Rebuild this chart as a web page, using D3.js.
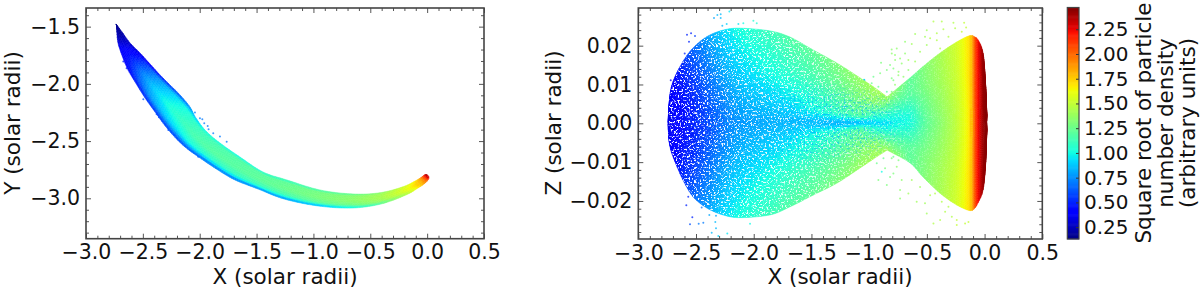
<!DOCTYPE html>
<html>
<head>
<meta charset="utf-8">
<style>
  body { margin: 0; background: #fff; }
  svg { display: block; }
  text { font-family: "DejaVu Sans", sans-serif; fill: #111; }
</style>
<script src="https://d3js.org/d3.v7.min.js"></script>
</head>
<body>
<div id="chart"></div>
<script>
// cross sections of the X-Y swath, from tip to tail
const swathUpperX = [-2.736,-2.683,-2.613,-2.525,-2.437,-2.349,-2.261,-2.173,-2.085,-2.033,-1.945,-1.821,-1.646,-1.443,-1.232,-0.942,-0.652,-0.414,-0.212,-0.106,-0.054,-0.018,-0.001];
const swathUpperY = [-1.476,-1.546,-1.642,-1.730,-1.826,-1.922,-2.010,-2.097,-2.202,-2.298,-2.412,-2.517,-2.639,-2.770,-2.840,-2.927,-2.962,-2.951,-2.899,-2.849,-2.818,-2.792,-2.792];
const swathLowerX = [-2.732,-2.723,-2.701,-2.639,-2.569,-2.481,-2.393,-2.296,-2.191,-2.103,-1.997,-1.874,-1.698,-1.487,-1.259,-0.960,-0.660,-0.405,-0.186,-0.080,-0.027,0.008,0.017];
const swathLowerY = [-1.485,-1.616,-1.704,-1.861,-1.983,-2.123,-2.246,-2.377,-2.495,-2.573,-2.648,-2.731,-2.836,-2.919,-3.006,-3.067,-3.085,-3.050,-2.971,-2.910,-2.875,-2.840,-2.814];
const swathFractions = [0, 0.12, 0.5, 0.82, 1];
const swathValues = [
  [.15,.15,.15,.15,.15],[.2,.2,.2,.25,.3],[.25,.3,.35,.38,.4],[.3,.42,.52,.48,.42],
  [.35,.58,.72,.62,.45],[.42,.74,.88,.75,.5],[.5,.85,.98,.84,.52],[.58,.94,1.06,.9,.55],
  [.7,1.02,1.12,.95,.55],[.85,1.08,1.15,1.0,.6],[1.0,1.12,1.18,1.02,.62],[1.0,1.15,1.2,1.05,.65],
  [.98,1.18,1.2,1.08,.65],[1.02,1.2,1.22,1.1,.7],[1.05,1.22,1.25,1.12,.72],[1.1,1.28,1.3,1.2,.8],
  [1.18,1.33,1.35,1.25,.95],[1.3,1.4,1.42,1.35,1.15],[1.5,1.55,1.58,1.5,1.4],[1.65,1.7,1.75,1.7,1.65],
  [1.95,1.9,1.85,1.85,1.85],[2.35,2.3,2.2,2.1,2.0],[2.45,2.45,2.4,2.4,2.4]
];
// stray particles outside the X-Y swath: x, y, value
const swathStrays = [
  [-2.672,-1.805,.5],[-2.643,-1.864,.5],[-2.496,-2.135,.6],[-2.379,-2.266,.6],[-2.358,-2.292,.6],[-2.276,-2.403,.6],
  [-2.218,-2.446,.6],[-2.042,-2.251,.7],[-1.998,-2.301,.7],[-1.977,-2.309,.7],[-1.960,-2.344,.7],[-1.930,-2.368,.7],
  [-1.922,-2.397,.7],[-1.881,-2.432,.7],[-1.822,-2.461,.7],[-1.763,-2.505,.7],[-2.057,-2.592,.6],[-2.013,-2.636,.6]
];

// X-Z body: stations along x
const bodyX = [-2.740,-2.736,-2.719,-2.682,-2.613,-2.526,-2.407,-2.266,-2.119,-1.859,-1.685,-1.486,-1.279,-1.079,-0.949,-0.845,-0.646,-0.534,-0.386,-0.238,-0.126,-0.083,-0.057,-0.013,0.010,0.019];
const bodyTop = [.0003,.0039,.0086,.0120,.0159,.0194,.0223,.0240,.0245,.0238,.0222,.0189,.0155,.0117,.0091,.0068,.0117,.0146,.0181,.0210,.0226,.0222,.0215,.0181,.0094,.0021];
const bodyBottom = [-.0002,-.0038,-.0069,-.0099,-.0146,-.0189,-.0218,-.0236,-.0243,-.0236,-.0215,-.0185,-.0154,-.0115,-.0089,-.0069,-.0102,-.0138,-.0180,-.0211,-.0225,-.0218,-.0205,-.0172,-.0100,-.0017];
const bodyWaist = 15; // index of the neck in bodyX
const bodyFractions = [0, 0.2, 0.42, 0.5, 0.58, 0.8, 1];
const bodyValues = [
  [.35,.35,.35,.35,.35,.35,.35],[.36,.36,.34,.34,.34,.36,.36],[.38,.38,.36,.36,.36,.38,.38],[.42,.42,.4,.38,.4,.42,.42],
  [.52,.47,.44,.44,.44,.47,.52],[.65,.55,.48,.48,.48,.55,.65],[.78,.68,.58,.56,.58,.68,.78],[.92,.82,.7,.68,.7,.82,.92],
  [1.02,.92,.8,.76,.8,.92,1.02],[1.12,1.02,.88,.82,.88,1.02,1.12],[1.18,1.08,.92,.84,.92,1.08,1.18],[1.22,1.14,1.0,.85,1.0,1.14,1.22],
  [1.3,1.22,1.1,.82,1.1,1.22,1.3],[1.38,1.32,1.2,.85,1.2,1.32,1.38],[1.42,1.36,1.05,.92,1.05,1.36,1.42],[1.42,1.2,1.0,.95,1.0,1.2,1.42],
  [1.22,1.2,1.05,1.02,1.05,1.2,1.22],[1.3,1.28,1.2,1.18,1.2,1.28,1.3],[1.42,1.4,1.35,1.33,1.35,1.4,1.42],[1.55,1.53,1.5,1.5,1.5,1.53,1.55],
  [1.72,1.72,1.7,1.7,1.7,1.72,1.72],[2.05,2.05,2.05,2.05,2.05,2.05,2.05],[2.22,2.22,2.22,2.22,2.22,2.22,2.22],[2.42,2.42,2.42,2.42,2.42,2.42,2.42],
  [2.45,2.45,2.45,2.45,2.45,2.45,2.45],[2.45,2.45,2.45,2.45,2.45,2.45,2.45]
];
// stray particles outside the X-Z body: x, z, value
const bodyStrays = [
  [-2.578,.0228,.5],[-2.543,.0232,.5],[-2.509,.0225,.55],[-2.561,.0210,.5],[-2.598,.0180,.5],[-2.719,.0111,.4],
  [-2.344,.0271,.8],[-2.315,.0279,.85],[-2.286,.0281,.85],[-2.286,.0271,.85],[-2.272,.0251,.85],[-2.211,.0288,.95],
  [-2.234,.0256,.9],[-2.133,.0256,.95],[-2.090,.0258,1.0],[-2.003,.0264,1.05],[-1.974,.0258,1.05],
  [-2.567,-.0189,.5],[-2.584,-.0211,.5],[-2.532,-.0242,.5],[-2.552,-.0260,.6],[-2.477,-.0259,.7],[-2.437,-.0256,.7],
  [-2.385,-.0236,.8],[-2.327,-.0238,.8],[-2.333,-.0254,.85],[-2.327,-.0270,.85],[-2.364,-.0282,.85],[-2.307,-.0290,.9],
  [-2.229,-.0284,.95],[-2.032,-.0259,1.0],[-2.451,-.0217,.7],[-1.044,.0112,.95],
  [-.443,.0262,1.45],[-.371,.0262,1.45],[-.270,.0259,1.45],[-.177,.0259,1.5],[-.160,.0247,1.5],[-.198,.0236,1.5],
  [-.357,.0242,1.45],[-.414,.0232,1.45],[-.501,.0240,1.4],[-.516,.0223,1.4],[-.602,.0230,1.4],[-.689,.0210,1.35],
  [-.631,.0204,1.4],[-.501,.0202,1.4],[-.414,.0214,1.45],[-.385,.0193,1.45],[-.559,.0184,1.4],[-.689,.0180,1.35],
  [-.805,.0190,1.35],[-.776,.0176,1.35],[-.732,.0167,1.35],[-.660,.0163,1.4],[-.602,.0159,1.4],[-.718,.0154,1.35],
  [-.790,.0141,1.3],[-.660,.0137,1.35],[-.573,.0133,1.4],[-.747,.0124,1.35],[-.805,.0116,1.3],[-.703,.0120,1.35],
  [-.776,.0099,1.35],[-.805,.0081,1.3],[-.472,.0219,1.45],[-.313,.0223,1.45],[-.255,.0245,1.45],
  [-.805,-.0090,1.3],[-.761,-.0112,1.35],[-.790,-.0129,1.3],[-.718,-.0146,1.35],[-.631,-.0146,1.4],[-.732,-.0172,1.35],
  [-.732,-.0194,1.35],[-.660,-.0181,1.4],[-.588,-.0202,1.4],[-.516,-.0206,1.4],[-.472,-.0185,1.45],[-.429,-.0181,1.45],
  [-.371,-.0202,1.45],[-.342,-.0228,1.45],[-.501,-.0232,1.4],[-.443,-.0258,1.45],[-.385,-.0249,1.45],[-.284,-.0241,1.45],
  [-.241,-.0249,1.5],[-.169,-.0258,1.5],[-.140,-.0254,1.5],[-.241,-.0262,1.5],[-.313,-.0215,1.45],[-.559,-.0164,1.4],
  [-.897,.0156,1.3],[-.819,.0150,1.3],[-.775,.0163,1.35],[-.746,.0133,1.35],[-.847,.0137,1.3],[-.905,.0129,1.3],
  [-.978,.0103,1.25],[-.920,.0094,1.25],[-.847,.0081,1.2],[-.790,.0111,1.3],[-.963,.0120,1.25],[-.804,.0180,1.35],[-.761,.0193,1.35],
  [-.992,-.0095,1.25],[-.934,-.0103,1.25],[-.862,-.0116,1.3],[-.819,-.0138,1.3],[-.847,-.0159,1.3],[-.920,-.0146,1.3],
  [-.746,-.0095,1.3],[-.876,-.0090,1.25],[-.790,-.0086,1.25],
  [-1.041,.0111,.85],[-.934,.0081,.95],[-1.252,-.0059,.8],[-.891,-.0125,1.0]
];

const xTicks = [-3, -2.5, -2, -1.5, -1, -0.5, 0, 0.5];
const xMinor = [-2.9,-2.8,-2.7,-2.6,-2.4,-2.3,-2.2,-2.1,-1.9,-1.8,-1.7,-1.6,-1.4,-1.3,-1.2,-1.1,-0.9,-0.8,-0.7,-0.6,-0.4,-0.3,-0.2,-0.1,0.1,0.2,0.3,0.4];
const yTicks = [-3, -2.5, -2, -1.5];
const yMinor = [-3.3,-3.2,-3.1,-2.9,-2.8,-2.7,-2.6,-2.4,-2.3,-2.2,-2.1,-1.9,-1.8,-1.7,-1.6,-1.4];
const zTicks = [-0.02, -0.01, 0, 0.01, 0.02];
const zMinor = [-0.028,-0.026,-0.024,-0.022,-0.018,-0.016,-0.014,-0.012,-0.008,-0.006,-0.004,-0.002,0.002,0.004,0.006,0.008,0.012,0.014,0.016,0.018,0.022,0.024,0.026,0.028];
const colorTicks = [0.25, 0.5, 0.75, 1, 1.25, 1.5, 1.75, 2, 2.25];
const colorDomain = [0.13, 2.47];
const colorLabelLines = ["Square root of particle", "number density", "(arbitrary units)"];

const fontSize = 20.5;
const labelSize = 21.5;
const spine = "#444";

// matplotlib's jet
const jetR = d3.scaleLinear().domain([0, .35, .66, .89, 1]).range([0, 0, 1, 1, .5]).clamp(true);
const jetG = d3.scaleLinear().domain([0, .125, .375, .64, .91, 1]).range([0, 0, 1, 1, 0, 0]).clamp(true);
const jetB = d3.scaleLinear().domain([0, .11, .34, .65, 1]).range([.5, 1, 1, 0, 0]).clamp(true);
const toUnit = d3.scaleLinear().domain(colorDomain).range([0, 1]).clamp(true);
function jet(v) {
  const t = toUnit(v);
  return d3.rgb(jetR(t) * 255, jetG(t) * 255, jetB(t) * 255).formatHex();
}

const svg = d3.select("#chart").append("svg").attr("width", 1200).attr("height", 292);
const defs = svg.append("defs");

function lerp(a, b, t) { return a + (b - a) * t; }
function catmull(p0, p1, p2, p3, t) {
  return 0.5 * (2 * p1 + (p2 - p0) * t + (2 * p0 - 5 * p1 + 4 * p2 - p3) * t * t + (3 * p1 - p0 - 3 * p2 + p3) * t * t * t);
}

// draws a mesh of colored cells; sections[i][j] = {x, y, v} in pixels
function drawMesh(g, sections) {
  const cells = [];
  const last = sections.length - 1;
  for (let i = 0; i < last; i++) {
    const s0 = sections[Math.max(i - 1, 0)], s1 = sections[i], s2 = sections[i + 1], s3 = sections[Math.min(i + 2, last)];
    for (let j = 0; j < s1.length - 1; j++) {
      const a = s1[j], b = s2[j], c = s2[j + 1], d = s1[j + 1];
      const nu = Math.max(1, Math.ceil(Math.hypot(b.x - a.x, b.y - a.y) / 2.5));
      const nv = Math.max(1, Math.ceil(Math.max(Math.hypot(d.x - a.x, d.y - a.y), Math.hypot(c.x - b.x, c.y - b.y)) / 2.5));
      const along = (k, s) => ({
        x: catmull(s0[k].x, s1[k].x, s2[k].x, s3[k].x, s),
        y: catmull(s0[k].y, s1[k].y, s2[k].y, s3[k].y, s)
      });
      const at = (u, w) => {
        const p = along(j, u / nu), q = along(j + 1, u / nu);
        return { x: lerp(p.x, q.x, w / nv), y: lerp(p.y, q.y, w / nv) };
      };
      for (let u = 0; u < nu; u++) {
        for (let w = 0; w < nv; w++) {
          const s = (u + .5) / nu, t = (w + .5) / nv;
          cells.push({
            pts: [at(u, w), at(u + 1, w), at(u + 1, w + 1), at(u, w + 1)],
            v: lerp(lerp(a.v, b.v, s), lerp(d.v, c.v, s), t)
          });
        }
      }
    }
  }
  const line = d3.line().x(p => p.x).y(p => p.y).curve(d3.curveLinearClosed);
  g.selectAll("path.cell").data(cells).join("path")
    .attr("class", "cell")
    .attr("d", c => line(c.pts))
    .attr("fill", c => jet(c.v))
    .attr("stroke", c => jet(c.v))
    .attr("stroke-width", 0.5);
}

function drawStrays(g, rows, x, y) {
  g.selectAll("circle.stray").data(rows).join("circle")
    .attr("class", "stray")
    .attr("cx", r => x(r[0]))
    .attr("cy", r => y(r[1]))
    .attr("r", 1)
    .attr("fill", r => jet(r[2]))
    .attr("fill-opacity", 0.75);
}

function drawFrame(x, y, yValues, yMinorValues, yFormat) {
  const [left, right] = x.range();
  const [bottom, top] = y.range();
  const xf = d3.format(".1f");
  const sides = [
    [d3.axisBottom(x), bottom, 0, xTicks, xMinor, xf],
    [d3.axisTop(x), top, 0, xTicks, xMinor, null],
    [d3.axisLeft(y), 0, left, yValues, yMinorValues, yFormat],
    [d3.axisRight(y), 0, right, yValues, yMinorValues, null]
  ];
  sides.forEach(([axis, ty, tx, major, minor, fmt]) => {
    const g1 = svg.append("g").attr("transform", `translate(${tx},${ty})`)
      .call(axis.tickValues(major).tickSizeInner(-5).tickSizeOuter(0).tickPadding(6)
        .tickFormat(fmt ? fmt : () => ""));
    const g2 = svg.append("g").attr("transform", `translate(${tx},${ty})`)
      .call(axis.tickValues(minor).tickSizeInner(-3).tickSizeOuter(0).tickFormat(() => ""));
    [g1, g2].forEach(g => {
      g.selectAll(".tick line").attr("stroke", "#555").attr("stroke-width", 1);
      g.select(".domain").attr("stroke", "none");
    });
    g1.selectAll("text").attr("font-size", fontSize).attr("fill", "#111");
  });
  svg.append("rect").attr("x", left).attr("y", top)
    .attr("width", right - left).attr("height", bottom - top)
    .attr("fill", "none").attr("stroke", spine).attr("stroke-width", 1.6);
}

function rotatedLabel(text, cx, cy) {
  svg.append("text").text(text)
    .attr("transform", `translate(${cx},${cy}) rotate(-90)`)
    .attr("text-anchor", "middle")
    .attr("font-size", labelSize);
}

// left panel
const xLeft = d3.scaleLinear().domain([-3, 0.5]).range([86, 484]);
const yLeft = d3.scaleLinear().domain([-3.353, -1.337]).range([238.7, 8]);
const leftSections = swathUpperX.map((_, i) => swathFractions.map((f, j) => ({
  x: lerp(xLeft(swathUpperX[i]), xLeft(swathLowerX[i]), f),
  y: lerp(yLeft(swathUpperY[i]), yLeft(swathLowerY[i]), f),
  v: swathValues[i][j]
})));
drawStrays(svg.append("g"), swathStrays, xLeft, yLeft);
drawMesh(svg.append("g"), leftSections);
drawFrame(xLeft, yLeft, yTicks, yMinor, d3.format(".1f"));
svg.append("text").text("X (solar radii)").attr("x", 285).attr("y", 284).attr("text-anchor", "middle").attr("font-size", labelSize);
rotatedLabel("Y (solar radii)", 20, 123);

// right panel, two meshes so the neck keeps its corner
const xRight = d3.scaleLinear().domain([-3, 0.5]).range([638.3, 1042.3]);
const yRight = d3.scaleLinear().domain([-0.0298, 0.0297]).range([239, 8]);
const rightSections = bodyX.map((_, i) => bodyFractions.map((f, j) => ({
  x: xRight(bodyX[i]),
  y: lerp(yRight(bodyTop[i]), yRight(bodyBottom[i]), f),
  v: bodyValues[i][j]
})));
drawStrays(svg.append("g"), bodyStrays, xRight, yRight);
drawMesh(svg.append("g"), rightSections.slice(0, bodyWaist + 1));
drawMesh(svg.append("g"), rightSections.slice(bodyWaist));

// white gaps between the particles, thick on the left and gone at the bright end
function noiseFilter(id, frequency, seed, matrix) {
  const f = defs.append("filter").attr("id", id)
    .attr("x", 0).attr("y", 0).attr("width", 1).attr("height", 1);
  f.append("feTurbulence").attr("type", "fractalNoise").attr("baseFrequency", frequency).attr("numOctaves", 2).attr("seed", seed);
  f.append("feColorMatrix").attr("type", "matrix").attr("values", matrix);
  f.append("feGaussianBlur").attr("stdDeviation", 0.3);
}
noiseFilter("specks", 0.55, 7, "0 0 0 0 1  0 0 0 0 1  0 0 0 0 1  9 0 0 0 -5.0");
noiseFilter("blueSpecks", 0.5, 11, "0 0 0 0 0  0 0 0 0 0.45  0 0 0 0 1  9 0 0 0 -4.9");
const fade = defs.append("linearGradient").attr("id", "speckFade")
  .attr("gradientUnits", "userSpaceOnUse")
  .attr("x1", xRight(-2.75)).attr("x2", xRight(0)).attr("y1", 0).attr("y2", 0);
[[0, 1], [0.4, 0.85], [0.6, 0.55], [0.8, 0.25], [0.95, 0]].forEach(s =>
  fade.append("stop").attr("offset", s[0]).attr("stop-color", "#fff").attr("stop-opacity", s[1]));
defs.append("mask").attr("id", "speckMask").attr("maskUnits", "userSpaceOnUse")
  .attr("x", 630).attr("y", 0).attr("width", 420).attr("height", 250)
  .append("rect").attr("x", 630).attr("y", 0).attr("width", 420).attr("height", 250).attr("fill", "url(#speckFade)");
const blueFade = defs.append("radialGradient").attr("id", "blueFade")
  .attr("gradientUnits", "userSpaceOnUse")
  .attr("cx", xRight(-1.6)).attr("cy", yRight(0)).attr("r", 130)
  .attr("gradientTransform", `translate(${xRight(-1.6)},${yRight(0)}) scale(1,0.35) translate(${-xRight(-1.6)},${-yRight(0)})`);
[[0, 0.8], [0.6, 0.5], [1, 0]].forEach(s =>
  blueFade.append("stop").attr("offset", s[0]).attr("stop-color", "#fff").attr("stop-opacity", s[1]));
defs.append("mask").attr("id", "blueMask").attr("maskUnits", "userSpaceOnUse")
  .attr("x", 630).attr("y", 0).attr("width", 420).attr("height", 250)
  .append("rect").attr("x", 630).attr("y", 0).attr("width", 420).attr("height", 250).attr("fill", "url(#blueFade)");
const outline = bodyX.map((d, i) => [xRight(d), yRight(bodyTop[i])])
  .concat(bodyX.map((d, i) => [xRight(d), yRight(bodyBottom[i])]).reverse());
defs.append("clipPath").attr("id", "bodyClip").append("path")
  .attr("d", d3.line().curve(d3.curveLinearClosed)(outline));
const texture = svg.append("g").attr("clip-path", "url(#bodyClip)");
texture.append("g").attr("mask", "url(#blueMask)")
  .append("rect").attr("x", 660).attr("y", 20).attr("width", 335).attr("height", 205)
  .attr("filter", "url(#blueSpecks)");
texture.append("g").attr("mask", "url(#speckMask)")
  .append("rect").attr("x", 660).attr("y", 20).attr("width", 335).attr("height", 205)
  .attr("filter", "url(#specks)");

drawFrame(xRight, yRight, zTicks, zMinor, d3.format(".2f"));
svg.append("text").text("X (solar radii)").attr("x", 840).attr("y", 284).attr("text-anchor", "middle").attr("font-size", labelSize);
rotatedLabel("Z (solar radii)", 561, 123);

// colorbar
const yBar = d3.scaleLinear().domain(colorDomain).range([239, 7.5]);
const barSteps = d3.range(256).map(i => lerp(colorDomain[0], colorDomain[1], (i + .5) / 256));
const barStep = (colorDomain[1] - colorDomain[0]) / 256;
svg.append("g").selectAll("rect").data(barSteps).join("rect")
  .attr("x", 1067.3).attr("width", 11.7)
  .attr("y", v => yBar(v + barStep / 2) - 0.3)
  .attr("height", v => yBar(v - barStep / 2) - yBar(v + barStep / 2) + 0.6)
  .attr("fill", v => jet(v));
const barAxis = svg.append("g").attr("transform", "translate(1079,0)")
  .call(d3.axisRight(yBar).tickValues(colorTicks).tickSizeInner(-3).tickSizeOuter(0).tickPadding(5).tickFormat(d3.format(".2f")));
barAxis.select(".domain").attr("stroke", "none");
barAxis.selectAll(".tick line").attr("stroke", "#333").attr("stroke-width", 1);
barAxis.selectAll("text").attr("font-size", 20).attr("fill", "#111");
svg.append("rect").attr("x", 1067.3).attr("y", 7.5).attr("width", 11.7).attr("height", 231.5)
  .attr("fill", "none").attr("stroke", spine).attr("stroke-width", 1.2);
colorLabelLines.forEach((line, i) => rotatedLabel(line, 1151 + i * 22, 123));
</script>
</body>
</html>
